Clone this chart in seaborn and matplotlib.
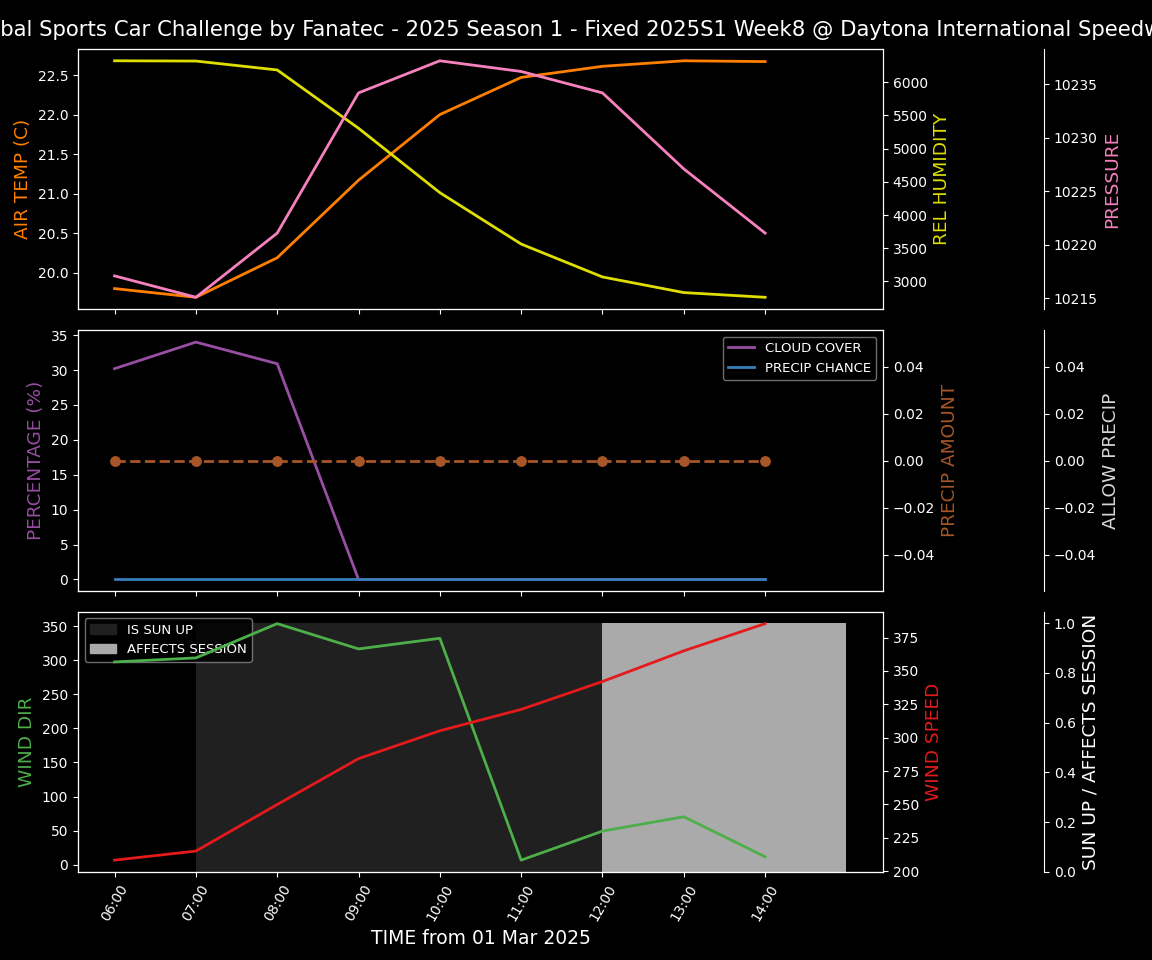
import numpy as np
import pandas as pd
import matplotlib
matplotlib.use("Agg")
import matplotlib.pyplot as plt
import matplotlib.dates as mdates
from matplotlib.patches import Patch
import seaborn as sns

plt.style.use("dark_background")

# ---- data ----
hours = ["06:00", "07:00", "08:00", "09:00", "10:00", "11:00", "12:00", "13:00", "14:00"]
band_hours = hours + ["15:00"]
air_temp = [19.80, 19.69, 20.19, 21.17, 22.00, 22.47, 22.61, 22.68, 22.67]
rel_humidity = [6320, 6316, 6182, 5305, 4336, 3563, 3068, 2833, 2762]
pressure = [10217.1, 10215.1, 10221.1, 10234.2, 10237.2, 10236.2, 10234.2, 10227.1, 10221.1]
cloud_cover = [30.2, 34.0, 30.9, 0.0, 0.0, 0.0, 0.0, 0.0, 0.0]
precip_chance = [0, 0, 0, 0, 0, 0, 0, 0, 0]
precip_amount = [0, 0, 0, 0, 0, 0, 0, 0, 0]
wind_dir = [297.6, 303.5, 353.8, 316.7, 332.3, 6.7, 49.3, 70.4, 11.7]
wind_speed = [208.2, 215.0, 249.9, 284.3, 305.2, 321.2, 342.1, 365.1, 385.5]
sun_up = [0, 1, 1, 1, 1, 1, 1, 1, 1, 1]
affects_session = [0, 0, 0, 0, 0, 0, 1, 1, 1, 1]

title = ("Global Sports Car Challenge by Fanatec - 2025 Season 1 - Fixed 2025S1 Week8 "
         "@ Daytona International Speedway")

times = pd.to_datetime(["2025-03-01 " + h for h in hours])
band_times = pd.to_datetime(["2025-03-01 " + h for h in band_hours])
df = pd.DataFrame({"t": times, "air": air_temp, "rh": rel_humidity, "p": pressure,
                   "cloud": cloud_cover, "pchance": precip_chance, "pamt": precip_amount,
                   "wdir": wind_dir, "wspd": wind_speed})

C_ORANGE = "#ff7f00"
C_YELLOW = "#dede00"
C_PINK = "#f781bf"
C_PURPLE = "#984ea3"
C_BLUE = "#377eb8"
C_BROWN = "#a65628"
C_GREEN = "#4daf4a"
C_RED = "#e41a1c"
C_SUN = "#202020"
C_AFF = "#aaaaaa"
LW = 2
LFS = 13.3
LEGFS = 9.5

fig = plt.figure(figsize=(11.52, 9.6), dpi=100, facecolor="black")
L, W = 0.0677, 0.6988
axs = [fig.add_axes([L, 0.678, W, 0.271]),
       fig.add_axes([L, 0.384, W, 0.272]),
       fig.add_axes([L, 0.0917, W, 0.271])]
for a in axs[1:]:
    a.sharex(axs[0])

def third(ax):
    t = ax.twinx()
    t.spines["right"].set_position(("axes", 1.2))
    return t

# ---- panel 1 ----
ax = axs[0]
sns.lineplot(data=df, x="t", y="air", ax=ax, color=C_ORANGE, lw=LW)
ax.set_ylabel("AIR TEMP (C)", color=C_ORANGE, fontsize=LFS)
a2 = ax.twinx()
sns.lineplot(data=df, x="t", y="rh", ax=a2, color=C_YELLOW, lw=LW)
a2.set_ylabel("REL HUMIDITY", color=C_YELLOW, fontsize=LFS)
a3 = third(ax)
sns.lineplot(data=df, x="t", y="p", ax=a3, color=C_PINK, lw=LW)
a3.set_ylabel("PRESSURE", color=C_PINK, fontsize=LFS)
for a in (ax, a2, a3):
    a.set_xlabel("")

# ---- panel 2 ----
ax = axs[1]
sns.lineplot(data=df, x="t", y="cloud", ax=ax, color=C_PURPLE, lw=LW, label="CLOUD COVER")
sns.lineplot(data=df, x="t", y="pchance", ax=ax, color=C_BLUE, lw=LW, label="PRECIP CHANCE")
ax.set_ylabel("PERCENTAGE (%)", color=C_PURPLE, fontsize=LFS)
ax.legend(loc="upper right", facecolor="black", edgecolor="#888888", fontsize=LEGFS)
b2 = ax.twinx()
sns.lineplot(data=df, x="t", y="pamt", ax=b2, color=C_BROWN, lw=LW, linestyle="--",
             marker="o", markersize=7, markeredgecolor=C_BROWN)
b2.set_ylabel("PRECIP AMOUNT", color=C_BROWN, fontsize=LFS)
b2.set_ylim(-0.0556, 0.0556)
b3 = third(ax)
b3.set_ylim(-0.0556, 0.0556)
b3.set_ylabel("ALLOW PRECIP", color="#d8d8d8", fontsize=LFS)
for a in (ax, b2, b3):
    a.set_xlabel("")

# ---- panel 3 ----
ax = axs[2]
c3 = third(ax)
c3.fill_between(band_times, 0, sun_up, step="post", color=C_SUN, lw=0)
c3.fill_between(band_times, 0, affects_session, step="post", color=C_AFF, lw=0)
c3.set_ylim(0, 1.045)
c3.set_ylabel("SUN UP / AFFECTS SESSION", color="white", fontsize=LFS)
c3.legend(handles=[Patch(color=C_SUN, label="IS SUN UP"),
                   Patch(color=C_AFF, label="AFFECTS SESSION")],
          loc="upper left", facecolor="black", edgecolor="#888888", fontsize=LEGFS)
sns.lineplot(data=df, x="t", y="wdir", ax=ax, color=C_GREEN, lw=LW)
ax.set_ylabel("WIND DIR", color=C_GREEN, fontsize=LFS)
c2 = ax.twinx()
sns.lineplot(data=df, x="t", y="wspd", ax=c2, color=C_RED, lw=LW)
c2.set_ylabel("WIND SPEED", color=C_RED, fontsize=LFS)
c2.set_xlabel("")
c3.set_xlabel("")
c3.set_zorder(0)
ax.set_zorder(1)
c2.set_zorder(2)
ax.patch.set_visible(False)
c2.patch.set_visible(False)
ax.set_xlabel("TIME from 01 Mar 2025", fontsize=LFS + 0.2)

# ---- shared x axis ----
span = band_times[-1] - band_times[0]
axs[0].set_xlim(band_times[0] - 0.05 * span, band_times[-1] + 0.05 * span)
axs[2].set_xticks(times)
axs[2].xaxis.set_major_formatter(mdates.DateFormatter("%H:%M"))
for a in axs[:2]:
    a.tick_params(labelbottom=False)
for lab in axs[2].get_xticklabels():
    lab.set_rotation(60)

fig.suptitle(title, fontsize=15.3, y=0.979, color="white")
fig.savefig("out.png", dpi=100, facecolor="black")
